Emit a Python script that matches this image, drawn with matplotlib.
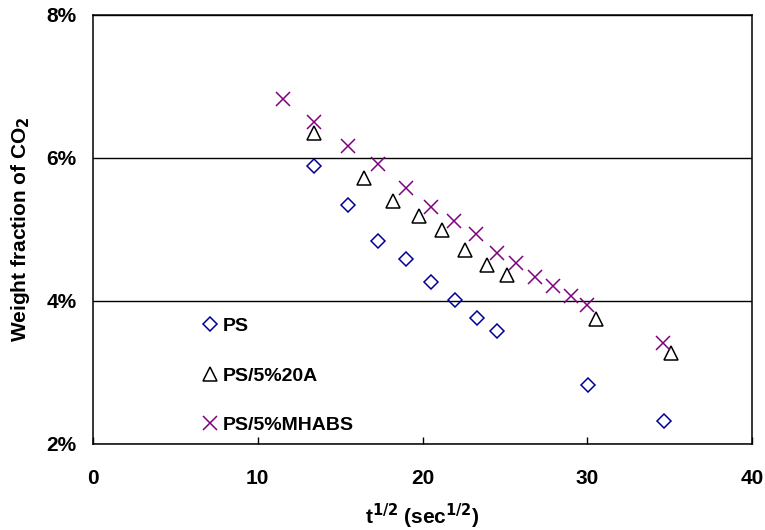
import matplotlib
matplotlib.use('Agg')
import matplotlib.pyplot as plt
from matplotlib.ticker import FuncFormatter, MultipleLocator

plt.rcParams['font.family'] = ['Liberation Sans', 'DejaVu Sans']
plt.rcParams['font.weight'] = 'bold'

# PS
ps_x = [13.41, 15.48, 17.30, 19.00, 20.52, 21.97, 23.31, 24.52, 30.05, 34.66]
ps_y = [5.89, 5.34, 4.84, 4.59, 4.27, 4.01, 3.76, 3.58, 2.83, 2.32]

# PS/5%20A
a20_x = [13.41, 16.45, 18.21, 19.79, 21.18, 22.58, 23.91, 25.13, 30.53, 35.08]
a20_y = [6.35, 5.72, 5.40, 5.19, 4.99, 4.71, 4.50, 4.36, 3.75, 3.27]

# PS/5%MHABS
mh_x = [11.53, 13.41, 15.48, 17.30, 19.00, 20.52, 21.91, 23.25, 24.52, 25.68,
        26.83, 27.92, 29.01, 29.98, 34.60]
mh_y = [6.83, 6.50, 6.17, 5.92, 5.58, 5.32, 5.12, 4.94, 4.67, 4.53,
        4.34, 4.21, 4.07, 3.94, 3.41]

fig = plt.figure(figsize=(7.65, 5.3), dpi=100)
ax = fig.add_axes([0.1216, 0.1623, 0.8614, 0.8094])

ax.plot(ps_x, ps_y, linestyle='none', marker='D', markersize=7,
        markerfacecolor='none', markeredgecolor='#000099', markeredgewidth=1.1, label='PS')
ax.plot(a20_x, a20_y, linestyle='none', marker='^', markersize=9.5,
        markerfacecolor='none', markeredgecolor='black', markeredgewidth=1.1, label='PS/5%20A')
ax.plot(mh_x, mh_y, linestyle='none', marker='x', markersize=10,
        markeredgecolor='#800080', markeredgewidth=1.1, label='PS/5%MHABS')

ax.set_xlim(0, 40)
ax.set_ylim(2, 8)
ax.xaxis.set_major_locator(MultipleLocator(10))
ax.yaxis.set_major_locator(MultipleLocator(2))
ax.yaxis.set_major_formatter(FuncFormatter(lambda v, p: f'{v:.0f}%'))
ax.tick_params(axis='x', direction='in', length=5, width=1, pad=18, labelsize=15)
ax.tick_params(axis='y', length=0, pad=12, labelsize=15)
ax.yaxis.grid(True, color='black', linewidth=1)
ax.set_axisbelow(True)
for s in ax.spines.values():
    s.set_linewidth(1.1)

ax.set_xlabel('t$^{\\mathbf{1/2}}$ (sec$^{\\mathbf{1/2}}$)', fontsize=15, fontweight='bold', labelpad=10)
ax.set_ylabel('Weight fraction of CO$_{\\mathbf{2}}$', fontsize=15, fontweight='bold', labelpad=10)

ax.legend(loc='lower left', bbox_to_anchor=(0.151, 0.0), frameon=False, borderpad=0,
          handlelength=0.8, handletextpad=0.25, labelspacing=1.65,
          prop={'weight': 'bold', 'size': 14})

fig.savefig('out.png', dpi=100)
